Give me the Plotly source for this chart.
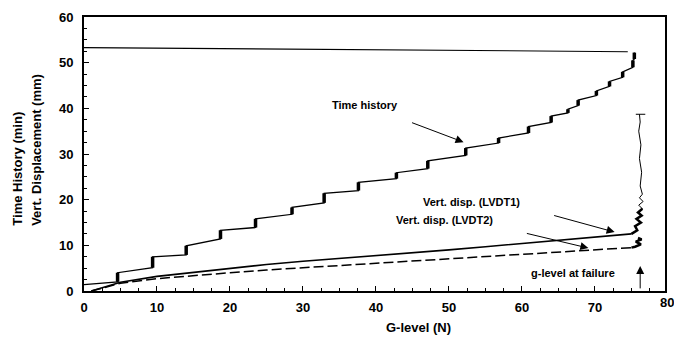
import plotly.graph_objects as go

# ---- data ----
# time history: (G-level, min) with steps
th_g = [0, 4.6, 4.6, 9.4, 9.4, 14.0, 14.0, 18.7, 18.7, 23.5, 23.5, 28.5, 28.5, 32.9, 32.9,
        37.6, 37.6, 42.8, 42.8, 47.1, 47.1, 52.3, 52.3, 56.8, 56.8, 60.9, 60.9, 64.0, 64.0,
        66.3, 66.3, 67.7, 67.7, 70.2, 70.2, 72.0, 72.0, 73.8, 73.8, 75.2, 75.2, 75.4, 75.4]
th_y = [1.4, 2.0, 4.0, 5.1, 7.5, 7.9, 9.9, 11.4, 13.3, 13.9, 15.8, 16.8, 18.3, 19.3, 21.4,
        22.0, 23.8, 24.6, 25.9, 26.8, 28.5, 29.7, 31.3, 32.4, 33.5, 34.6, 36.0, 36.9, 38.3,
        39.0, 39.8, 40.6, 41.8, 42.8, 43.8, 44.8, 45.9, 46.8, 48.0, 49.0, 50.5, 50.8, 52.2]
top_g = [0, 74.5]
top_y = [53.3, 52.4]

lv_g = [1, 5, 10, 15, 20, 25, 30, 35, 40, 45, 50, 55, 60, 65, 70, 75]
lvdt1 = [0, 1.9, 3.2, 4.1, 5.0, 5.8, 6.5, 7.1, 7.7, 8.3, 9.0, 9.7, 10.4, 11.0, 11.8, 12.5]
lvdt2 = [0, 1.7, 2.7, 3.4, 4.0, 4.6, 5.1, 5.6, 6.1, 6.6, 7.1, 7.6, 8.1, 8.6, 9.1, 9.5]

lv2_end_g = [75, 75.5, 76.3, 75.6, 76.4, 75.9]
lv2_end_y = [9.5, 9.7, 10.2, 10.8, 11.3, 11.6]

fail_g = [75.0, 75.8, 75.5, 76.3, 75.7, 76.4, 75.9, 76.5, 76.0, 76.6, 76.1, 76.5, 76.2,
          76.4, 76.1, 76.3, 76.0, 76.2, 76.1]
fail_y = [12.5, 13.3, 14.2, 15.0, 15.8, 16.5, 17.2, 18.0, 18.8, 19.6, 20.4, 21.2, 23.0,
          26.0, 29.0, 32.0, 35.0, 37.0, 38.7]
cap_g = [75.6, 76.9]
cap_y = [38.7, 38.7]

x_ticks = [0, 10, 20, 30, 40, 50, 60, 70]
y_ticks = [0, 10, 20, 30, 40, 50, 60]

FONT = "Liberation Sans"
fig = go.Figure()
blk = "black"

fig.add_trace(go.Scatter(x=th_g, y=th_y, mode="lines", line=dict(color=blk, width=1.3)))
# bold step blobs
bx, by = [], []
for i in range(1, len(th_g) - 1, 2):
    bx += [th_g[i], th_g[i + 1], None]
    by += [th_y[i], th_y[i + 1], None]
fig.add_trace(go.Scatter(x=bx, y=by, mode="lines", line=dict(color=blk, width=3.5)))
fig.add_trace(go.Scatter(x=top_g, y=top_y, mode="lines", line=dict(color=blk, width=1.1)))
fig.add_trace(go.Scatter(x=lv_g, y=lvdt1, mode="lines", line=dict(color=blk, width=1.6)))
fig.add_trace(go.Scatter(x=lv_g, y=lvdt2, mode="lines",
                         line=dict(color=blk, width=1.5, dash="10px,4px")))
fig.add_trace(go.Scatter(x=lv2_end_g, y=lv2_end_y, mode="lines", line=dict(color=blk, width=2.5)))
fig.add_trace(go.Scatter(x=fail_g, y=fail_y, mode="lines", line=dict(color=blk, width=1)))
fig.add_trace(go.Scatter(x=fail_g[:8], y=fail_y[:8], mode="lines", line=dict(color=blk, width=2.5)))
fig.add_trace(go.Scatter(x=cap_g, y=cap_y, mode="lines", line=dict(color=blk, width=1)))

afont = dict(family=FONT, size=11, color=blk, weight="bold")
ann = []
def txt(x, y, s):
    ann.append(dict(x=x, y=y, xref="x", yref="y", text=s, showarrow=False, font=afont,
                    xanchor="center", yanchor="middle"))
def arr(x, y, ax, ay):
    ann.append(dict(x=x, y=y, xref="x", yref="y", ax=ax, ay=ay, text="", showarrow=True,
                    arrowhead=2, arrowsize=1.6, arrowwidth=1, arrowcolor=blk))
txt(38.5, 40.7, "Time history")
arr(52.0, 32.6, -53, -20)
txt(53.1, 19.5, "Vert. disp. (LVDT1)")
arr(72.7, 12.9, -62, -17)
txt(49.4, 15.5, "Vert. disp. (LVDT2)")
arr(69.1, 9.4, -63, -15)
txt(67.0, 3.9, "g-level at failure")
arr(76.2, 5.5, 0, 24)

tfont = dict(family=FONT, size=13, color=blk, weight="bold")
ann.append(dict(x=0.575, y=-0.135, xref="paper", yref="paper", text="G-level (N)",
                showarrow=False, font=tfont, xanchor="center", yanchor="middle"))
ann.append(dict(x=-0.116, y=0.445, xref="paper", yref="paper", text="Time History (min)",
                showarrow=False, font=tfont, textangle=-90, xanchor="center", yanchor="middle"))
ann.append(dict(x=-0.081, y=0.515, xref="paper", yref="paper", text="Vert. Displacement (mm)",
                showarrow=False, font=tfont, textangle=-90, xanchor="center", yanchor="middle"))
ann.append(dict(x=1.004, y=-0.042, xref="paper", yref="paper", text="80", showarrow=False,
                font=dict(family=FONT, size=13, color=blk, weight="bold"),
                xanchor="center", yanchor="middle"))

fig.update_layout(
    width=674, height=344, margin=dict(l=84, r=7, t=17, b=53),
    paper_bgcolor="white", plot_bgcolor="white", showlegend=False,
    annotations=ann,
    font=dict(family=FONT, color=blk),
)
fig.update_xaxes(range=[0, 79.6], tickvals=x_ticks, ticks="inside", ticklen=5, tickwidth=1.2,
                 tickcolor=blk, showline=True, linecolor=blk, linewidth=2, mirror=True,
                 showgrid=False, zeroline=False,
                 tickfont=dict(family=FONT, size=13, color=blk, weight="bold"),
                 ticklabelstandoff=3,
                 minor=dict(dtick=2.5, ticks="inside", ticklen=3, tickcolor=blk, showgrid=False))
fig.update_yaxes(range=[0, 60], tickvals=y_ticks, ticks="inside", ticklen=5, tickwidth=1.2,
                 tickcolor=blk, showline=True, linecolor=blk, linewidth=2, mirror=True,
                 showgrid=False, zeroline=False,
                 tickfont=dict(family=FONT, size=13, color=blk, weight="bold"),
                 ticklabelstandoff=6,
                 minor=dict(dtick=2.5, ticks="inside", ticklen=3, tickcolor=blk, showgrid=False))

fig.write_html("out.html")
